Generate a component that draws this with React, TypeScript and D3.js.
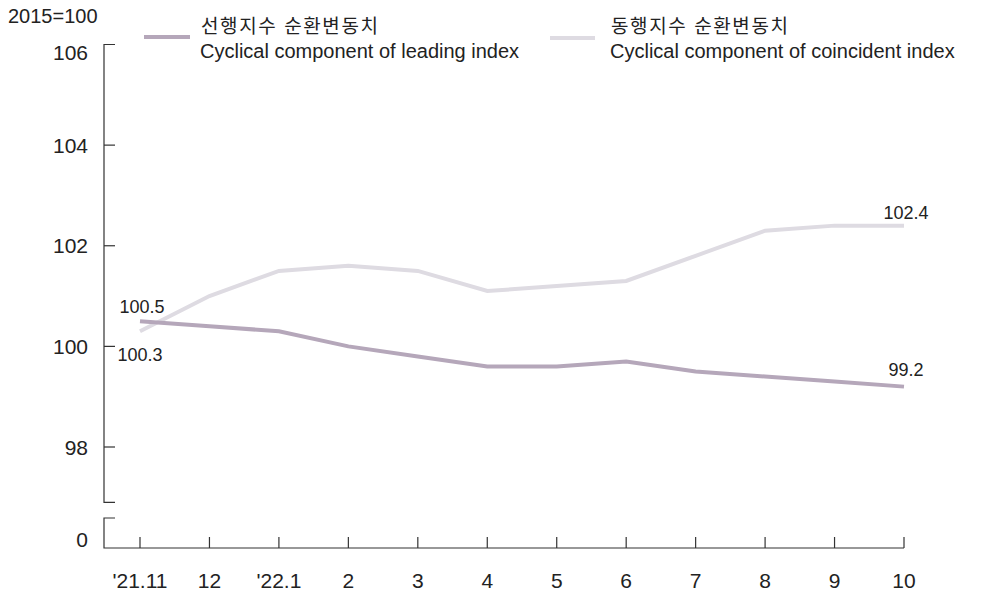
import React from 'react';
import * as d3 from 'd3';

const width = 985;
const height = 596;

const months = ["'21.11", '12', "'22.1", '2', '3', '4', '5', '6', '7', '8', '9', '10'];
const leading = [100.5, 100.4, 100.3, 100.0, 99.8, 99.6, 99.6, 99.7, 99.5, 99.4, 99.3, 99.2];
const coincident = [100.3, 101.0, 101.5, 101.6, 101.5, 101.1, 101.2, 101.3, 101.8, 102.3, 102.4, 102.4];
const yTicks = [106, 104, 102, 100, 98];

const leadColor = '#b5a7ba';
const coinColor = '#dedbe2';
const axisColor = '#333';
const font = '"Liberation Sans", Arial, "Noto Sans CJK KR", sans-serif';

const axisX = 104;
const baseY = 548;

const App = () => {
  // x positions: point scale with the last month on the axis end
  const x = d3.scalePoint<string>().domain(months).range([140, 904]);
  const y = d3.scaleLinear().domain([98, 106]).range([447, 44.5]);
  const upperBottom = y(96.9);

  const line = d3.line<number>()
    .x((_, i) => x(months[i]) as number)
    .y((d) => y(d));

  const last = months.length - 1;

  return (
    <svg width={width} height={height} style={{ position: 'absolute', left: 0, top: 0 }} fontFamily={font}>
      {/* unit */}
      <text x={8} y={23} fontSize={20} fill="#222">2015=100</text>

      {/* legend */}
      <line x1={144} x2={190} y1={37} y2={37} stroke={leadColor} strokeWidth={4} />
      <text x={201} y={33} fontSize={19} letterSpacing={1.6} fill="#222">선행지수 순환변동치</text>
      <text x={200} y={58} fontSize={20} fill="#222">Cyclical component of leading index</text>
      <line x1={550} x2={595} y1={38} y2={38} stroke={coinColor} strokeWidth={4} />
      <text x={611} y={33} fontSize={19} letterSpacing={1.6} fill="#222">동행지수 순환변동치</text>
      <text x={610} y={58} fontSize={20} fill="#222">Cyclical component of coincident index</text>

      {/* y axis upper segment */}
      <path
        d={`M${axisX + 11},${y(106)}H${axisX}V${upperBottom}H${axisX + 11}`}
        fill="none" stroke={axisColor} strokeWidth={1.2}
      />
      {yTicks.filter((t) => t !== 106).map((t) => (
        <line key={t} x1={axisX} x2={axisX + 11} y1={y(t)} y2={y(t)} stroke={axisColor} strokeWidth={1.2} />
      ))}
      {yTicks.map((t) => (
        <text key={t} x={88} y={t === 106 ? y(t) + 15 : y(t) + 7.5} fontSize={21} textAnchor="end" fill="#222">{t}</text>
      ))}

      {/* y axis lower segment + x axis */}
      <path
        d={`M${axisX + 11},518H${axisX}V${baseY}H${x(months[last])}`}
        fill="none" stroke={axisColor} strokeWidth={1.2}
      />
      <text x={88} y={546.5} fontSize={21} textAnchor="end" fill="#222">0</text>
      {months.map((m) => (
        <g key={m} transform={`translate(${x(m)},0)`}>
          <line y1={baseY} y2={baseY - 11} stroke={axisColor} strokeWidth={1.2} />
          <text y={588} fontSize={21} textAnchor="middle" fill="#222">{m}</text>
        </g>
      ))}

      {/* series */}
      <path d={line(coincident) ?? ''} fill="none" stroke={coinColor} strokeWidth={4} />
      <path d={line(leading) ?? ''} fill="none" stroke={leadColor} strokeWidth={4} />

      {/* data labels */}
      <text x={(x(months[0]) as number) + 2} y={y(leading[0]) - 8} fontSize={18} textAnchor="middle" fill="#222">{leading[0].toFixed(1)}</text>
      <text x={(x(months[0]) as number) + 0} y={y(coincident[0]) + 30} fontSize={18} textAnchor="middle" fill="#222">{coincident[0].toFixed(1)}</text>
      <text x={(x(months[last]) as number) + 2} y={y(coincident[last]) - 7} fontSize={18} textAnchor="middle" fill="#222">{coincident[last].toFixed(1)}</text>
      <text x={(x(months[last]) as number) + 2} y={y(leading[last]) - 11} fontSize={18} textAnchor="middle" fill="#222">{leading[last].toFixed(1)}</text>
    </svg>
  );
};

export default App;
